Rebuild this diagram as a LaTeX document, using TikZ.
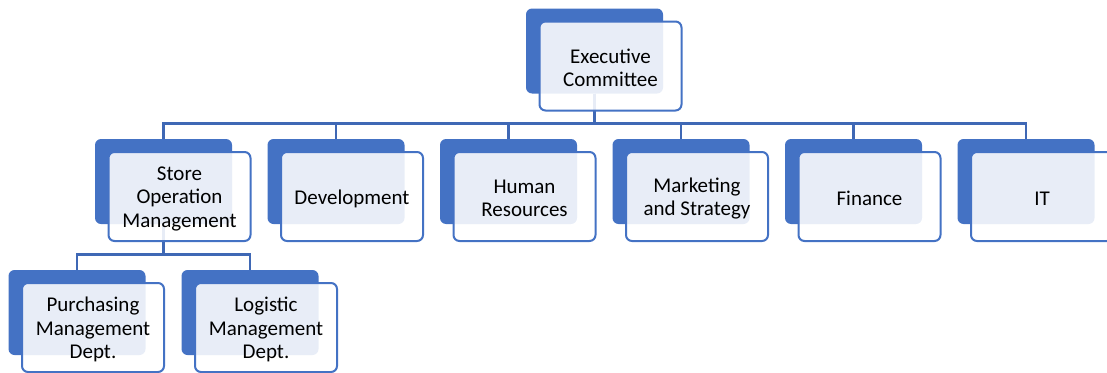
\documentclass[tikz,border=0pt]{standalone}
\usepackage{fontspec}
\setmainfont{Carlito}
\definecolor{accent}{HTML}{4472C4}
\definecolor{linkblue}{HTML}{3F68B5}
\pgfdeclarelayer{background}
\pgfsetlayers{background,main}
\tikzset{
  backbox/.style={rectangle, rounded corners=6pt, fill=accent, draw=none,
    minimum width=137pt, minimum height=85pt, inner sep=0pt},
  frontbox/.style={rectangle, rounded corners=6pt, draw=accent, line width=2pt,
    fill=white, fill opacity=0.88,
    minimum width=142pt, minimum height=89pt, inner sep=0pt},
  boxlabel/.style={text=black, align=center, inner sep=0pt,
    font=\fontsize{21}{23.5}\selectfont},
  link/.style={draw=linkblue, line width=2.6pt}
}
% one unit box: dark backing card, translucent front card, and its label
\newcommand{\unitbox}[4]{%
  \node[backbox] (#1b) at (#2,#3) {};
  \node[frontbox] (#1f) at (#2+16,#3+15) {};
  \node[boxlabel] (#1t) at (#2+16,#3+17) {#4};
}
\begin{document}
\begin{tikzpicture}[x=1pt,y=-1pt]
\useasboundingbox (0,0) rectangle (1107,372);

\unitbox{ex}{594.5}{51}{Executive\\Committee}
\unitbox{so}{163.5}{181.5}{Store\\Operation\\Management}
\unitbox{dv}{336}{181.5}{Development}
\unitbox{hr}{508.5}{181.5}{Human\\Resources}
\unitbox{ms}{681}{181.5}{Marketing\\and Strategy}
\unitbox{fi}{853.5}{181.5}{Finance}
\unitbox{it}{1026}{181.5}{IT}
\unitbox{pm}{77}{312.5}{Purchasing\\Management\\Dept.}
\unitbox{lm}{250}{312.5}{Logistic\\Management\\Dept.}

\begin{pgfonlayer}{background}
  \foreach \c in {so,dv,hr,ms,fi,it}
    \draw[link] (exb.south) -- ++(0,30) -| (\c b.north);
  \foreach \c in {pm,lm}
    \draw[link] (sob.south) -- ++(0,30) -| (\c b.north);
\end{pgfonlayer}
\end{tikzpicture}
\end{document}
